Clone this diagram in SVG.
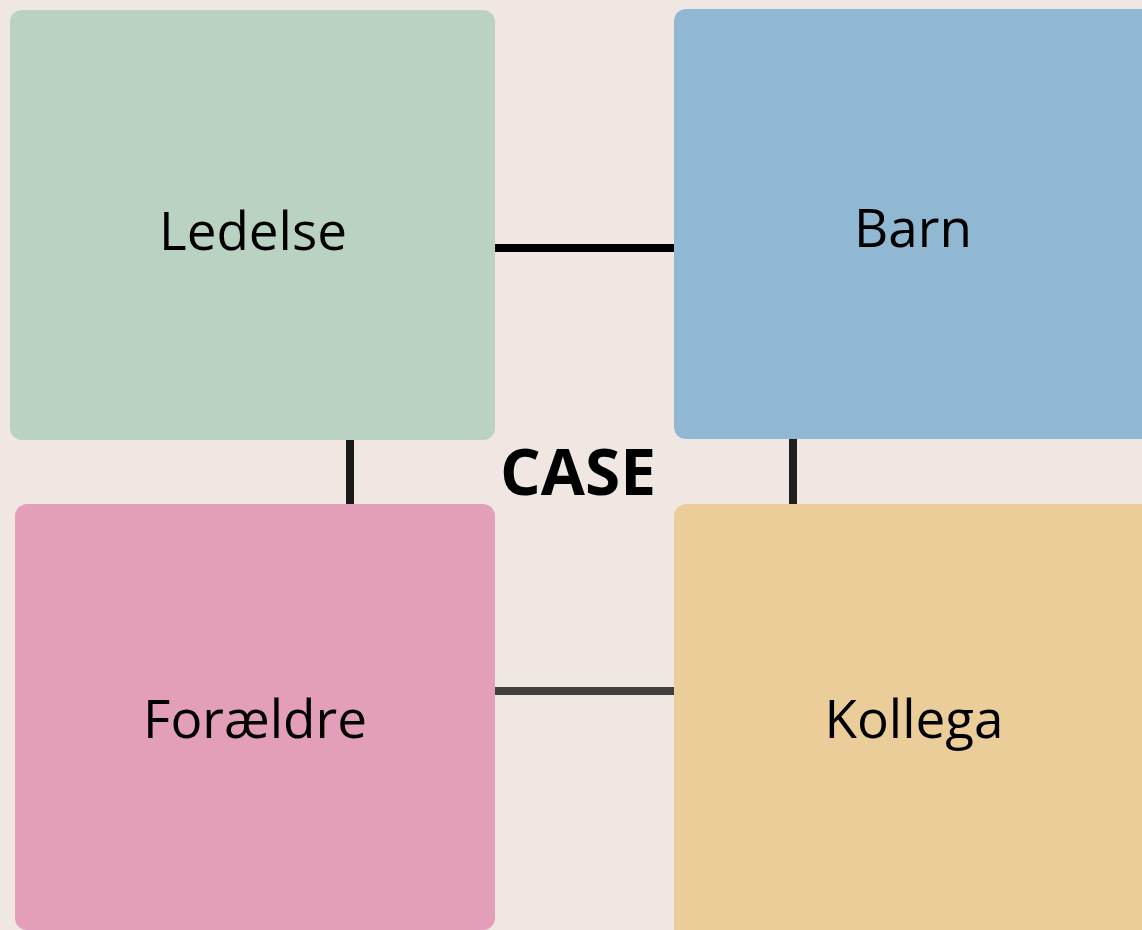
<svg xmlns="http://www.w3.org/2000/svg" width="1142" height="930" viewBox="0 0 1142 930">
<style>
.lbl{font-family:"Open Sans","Noto Sans",sans-serif;font-size:53px;fill:#000;text-anchor:middle}
.case{font-family:"Open Sans","Noto Sans",sans-serif;font-size:64px;font-weight:bold;fill:#000;text-anchor:middle}
</style>
<rect width="1142" height="930" fill="#f0e7e2"/>
<g id="connectors">
<rect x="494" y="244" width="181" height="8" fill="#000"/>
<rect x="494" y="687" width="181" height="8" fill="#404040"/>
<rect x="346" y="438" width="8" height="68" fill="#1a1a1a"/>
<rect x="789" y="437" width="8" height="69" fill="#1e1e1e"/>
</g>
<g id="ledelse">
<rect x="10" y="10" width="485" height="430" rx="12" fill="#bad2c1"/>
<text class="lbl" x="253" y="250">Ledelse</text>
</g>
<g id="barn">
<rect x="674" y="9" width="490" height="430" rx="12" fill="#91b8d3"/>
<text class="lbl" x="913" y="247">Barn</text>
</g>
<g id="foraeldre">
<rect x="15" y="504" width="480" height="426" rx="12" fill="#e39eb9"/>
<text class="lbl" x="255" y="738">Forældre</text>
</g>
<g id="kollega">
<rect x="674" y="504" width="490" height="450" rx="12" fill="#eacd98"/>
<text class="lbl" x="914" y="738">Kollega</text>
</g>
<g id="case">
<text class="case" x="578" y="495">CASE</text>
</g>
</svg>
